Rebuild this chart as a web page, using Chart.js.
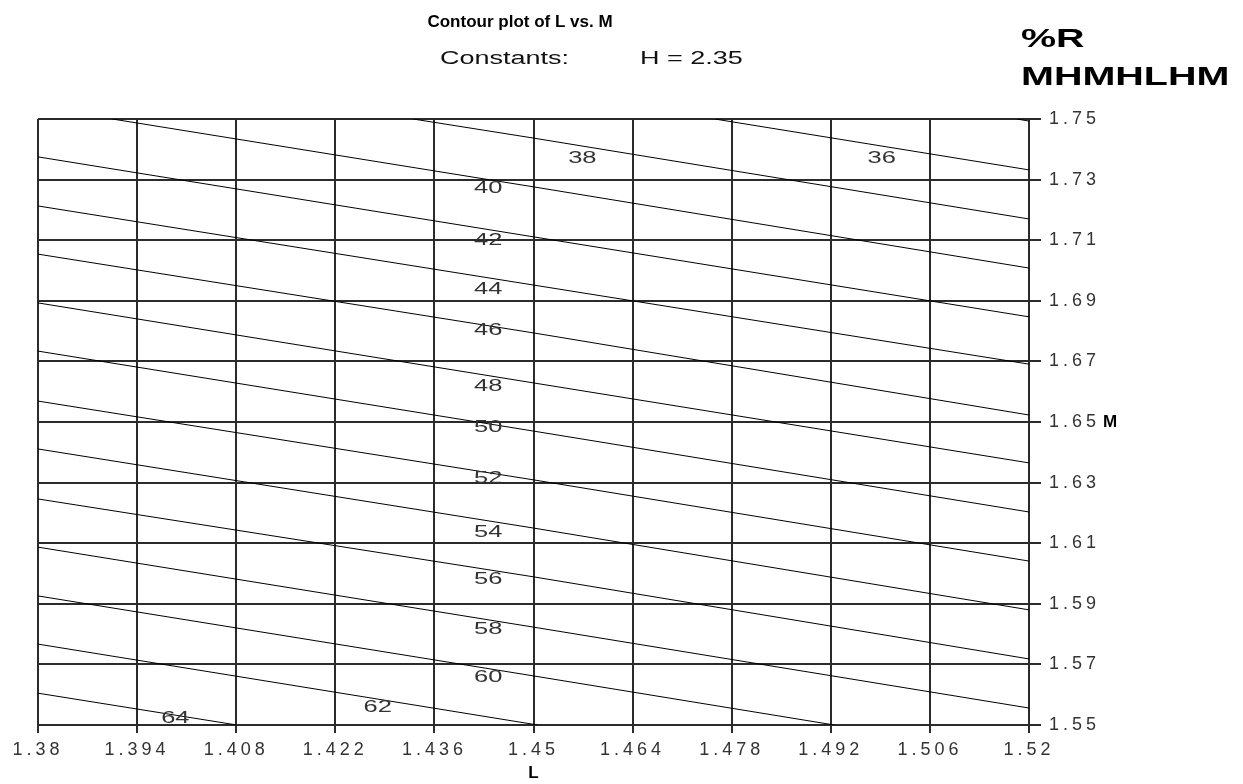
<!DOCTYPE html>
<html>
<head>
<meta charset="utf-8">
<title>Contour plot of L vs. M</title>
<script src="https://cdn.jsdelivr.net/npm/chart.js@4.4.0/dist/chart.umd.min.js"></script>
<style>
html, body { margin: 0; padding: 0; background: #fff; }
#wrap { width: 1243px; height: 784px; }
</style>
</head>
<body>
<div id="wrap"><canvas id="contour"></canvas></div>
<script>
// %R contour levels (H held at 2.35)
const levels = [34, 36, 38, 40, 42, 44, 46, 48, 50, 52, 54, 56, 58, 60, 62, 64];

// where each contour runs: L values and matching M values
const lineL = [
    [1.5183, 1.52],
    [1.4756, 1.52],
    [1.433, 1.45, 1.52],
    [1.3905, 1.45, 1.52],
    [1.38, 1.45, 1.52],
    [1.38, 1.45, 1.52],
    [1.38, 1.45, 1.52],
    [1.38, 1.45, 1.52],
    [1.38, 1.45, 1.52],
    [1.38, 1.45, 1.52],
    [1.38, 1.45, 1.52],
    [1.38, 1.45, 1.52],
    [1.38, 1.45, 1.52],
    [1.38, 1.45, 1.4925],
    [1.38, 1.4506],
    [1.38, 1.4081]
];
const lineM = [
    [1.75, 1.7493],
    [1.75, 1.7332],
    [1.75, 1.7437, 1.717],
    [1.75, 1.7276, 1.7008],
    [1.7375, 1.7111, 1.6847],
    [1.7213, 1.6952, 1.6691],
    [1.7054, 1.6794, 1.6523],
    [1.6893, 1.6629, 1.6365],
    [1.6734, 1.647, 1.6203],
    [1.6569, 1.6309, 1.6041],
    [1.6411, 1.615, 1.588],
    [1.6246, 1.5989, 1.5718],
    [1.6087, 1.5823, 1.5556],
    [1.5926, 1.5662, 1.55],
    [1.5767, 1.55],
    [1.5605, 1.55]
];

// where the level numbers sit
const labelText = ["36", "38", "40", "42", "44", "46", "48", "50", "52", "54", "56", "58", "60", "62", "64"];
const labelL = [1.4992, 1.4569, 1.4436, 1.4436, 1.4436, 1.4436, 1.4436, 1.4436, 1.4436, 1.4436, 1.4436, 1.4436, 1.4436, 1.428, 1.3994];
const labelM = [1.7371, 1.7371, 1.7272, 1.7101, 1.6939, 1.6804, 1.6619, 1.6484, 1.6315, 1.6137, 1.5982, 1.5817, 1.5658, 1.556, 1.5523];

const lTicks = [1.38, 1.394, 1.408, 1.422, 1.436, 1.45, 1.464, 1.478, 1.492, 1.506, 1.52];
const mTicks = [1.55, 1.57, 1.59, 1.61, 1.63, 1.65, 1.67, 1.69, 1.71, 1.73, 1.75];

const gridCol = "#2b2b2b";
const textCol = "#333";
const face = "'Liberation Sans', Arial, sans-serif";

const datasets = levels.map((lv, i) => ({
    label: "%R " + lv,
    data: lineL[i].map((l, j) => ({ x: l, y: lineM[i][j] })),
    showLine: true,
    borderColor: "#000",
    borderWidth: 1,
    pointRadius: 0,
    tension: 0,
    clip: 0
}));

function stretched(ctx, text, x, y, sx, align) {
    ctx.save();
    ctx.translate(x, y);
    ctx.scale(sx, 1);
    ctx.textAlign = align || "left";
    ctx.fillText(text, 0, 0);
    ctx.restore();
}

// tick labels in the original are very wide, so space them out
const spacing = {
    id: "spacing",
    beforeDraw(chart) { chart.ctx.letterSpacing = "4px"; }
};

const decor = {
    id: "decor",
    afterDatasetsDraw(chart) {
        const ctx = chart.ctx, xs = chart.scales.x, ys = chart.scales.y;
        ctx.save();
        ctx.letterSpacing = "0px";
        ctx.fillStyle = textCol;
        ctx.font = "17px " + face;
        ctx.textBaseline = "middle";
        labelText.forEach((t, i) => {
            stretched(ctx, t, xs.getPixelForValue(labelL[i]), ys.getPixelForValue(labelM[i]), 1.5, "center");
        });
        ctx.restore();
    },
    afterDraw(chart) {
        const ctx = chart.ctx, xs = chart.scales.x, ys = chart.scales.y;
        ctx.save();
        ctx.letterSpacing = "0px";
        ctx.textBaseline = "middle";
        ctx.fillStyle = "#000";
        ctx.font = "bold 17px " + face;
        ctx.textAlign = "center";
        ctx.fillText("Contour plot of L vs. M", 520, 22);

        ctx.fillStyle = "#111";
        ctx.font = "18px " + face;
        stretched(ctx, "Constants:", 440, 59, 1.5);
        stretched(ctx, "H = 2.35", 640, 59, 1.5);

        ctx.fillStyle = "#000";
        ctx.font = "bold 25px " + face;
        stretched(ctx, "%R", 1021, 40, 1.58);
        stretched(ctx, "MHMHLHM", 1021, 78, 1.58);

        ctx.font = "bold 17px " + face;
        ctx.textAlign = "left";
        ctx.fillText("M", 1103, ys.getPixelForValue(1.65));
        ctx.textAlign = "center";
        ctx.fillText("L", xs.getPixelForValue(1.45), 773);
        ctx.restore();
    }
};

new Chart(document.getElementById("contour"), {
    type: "scatter",
    data: { datasets },
    options: {
        responsive: true,
        maintainAspectRatio: false,
        animation: false,
        layout: { padding: { left: 38, top: 119, right: 0, bottom: 0 } },
        plugins: { legend: { display: false }, tooltip: { enabled: false } },
        scales: {
            x: {
                type: "linear",
                min: 1.38,
                max: 1.52,
                afterBuildTicks: s => { s.ticks = lTicks.map(v => ({ value: v })); },
                afterFit: s => { s.height = 59; },
                ticks: {
                    autoSkip: false,
                    maxRotation: 0,
                    padding: 6,
                    color: textCol,
                    font: { family: face, size: 18 },
                    callback: v => String(Number(v.toFixed(3)))
                },
                grid: { color: gridCol, lineWidth: 2, tickLength: 8 },
                border: { color: gridCol, width: 2 }
            },
            y: {
                type: "linear",
                position: "right",
                min: 1.55,
                max: 1.75,
                afterBuildTicks: s => { s.ticks = mTicks.map(v => ({ value: v })); },
                afterFit: s => { s.width = 214; },
                ticks: {
                    autoSkip: false,
                    padding: 8,
                    color: textCol,
                    font: { family: face, size: 18 },
                    callback: v => v.toFixed(2)
                },
                grid: { color: gridCol, lineWidth: 2, tickLength: 12 },
                border: { color: gridCol, width: 2 }
            }
        }
    },
    plugins: [spacing, decor]
});
</script>
</body>
</html>
